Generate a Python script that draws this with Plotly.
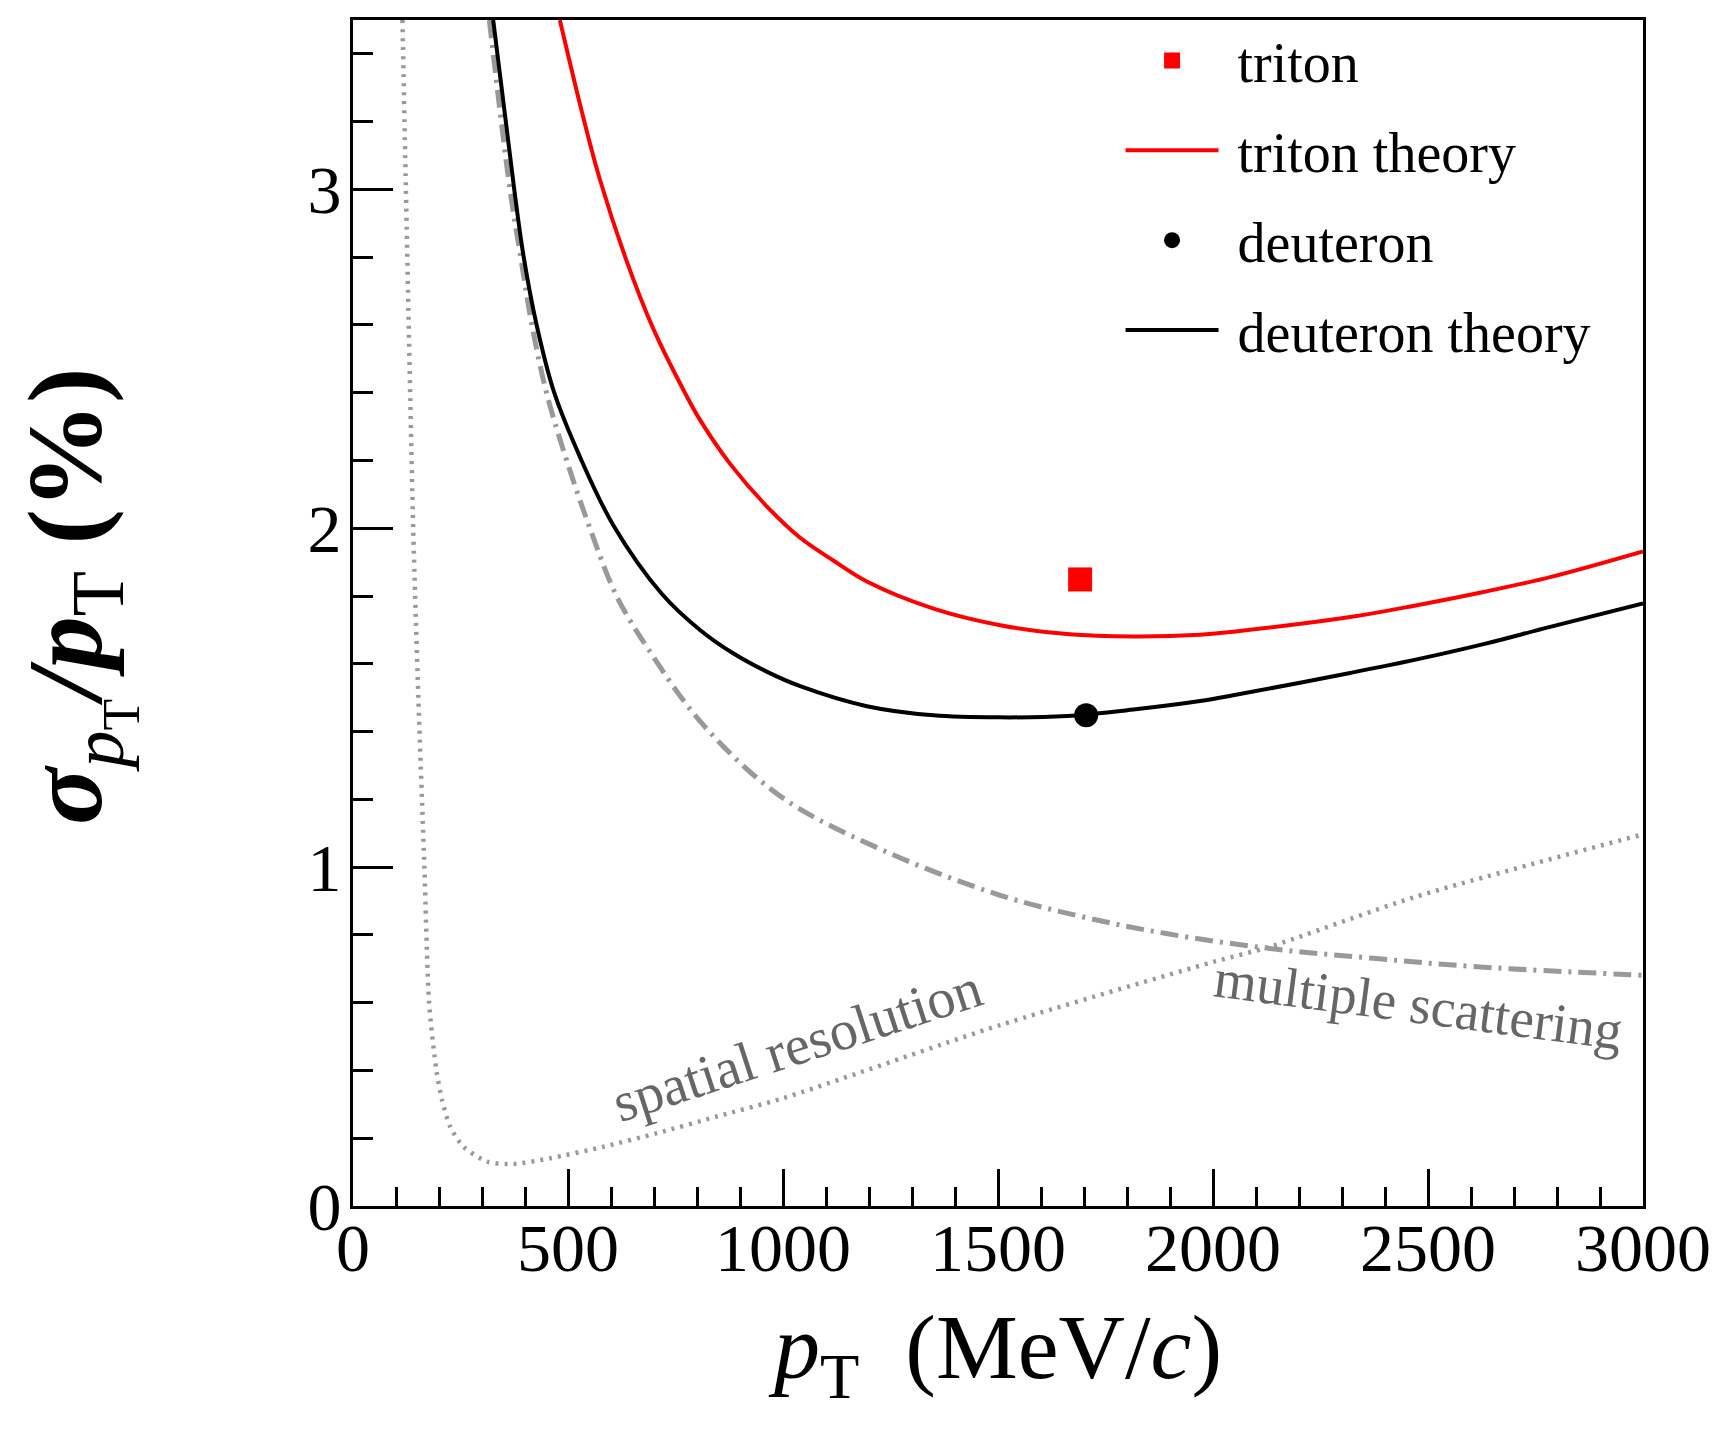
import plotly.graph_objects as go

# ---------------- data ----------------
pt_trit_theory = [481, 536, 574, 636, 698, 776, 807, 877, 962, 1040, 1117, 1195, 1350,
                  1505, 1660, 1815, 1970, 2047, 2319, 2474, 2629, 2784, 3000]
res_trit_theory = [3.5, 3.21, 3.03, 2.79, 2.59, 2.39, 2.32, 2.19, 2.065, 1.972, 1.905, 1.843, 1.763,
                   1.714, 1.688, 1.681, 1.686, 1.695, 1.738, 1.773, 1.812, 1.856, 1.932]

pt_deut_theory = [326, 375, 397, 427, 468, 528, 605, 718, 807, 884, 962, 1040, 1195, 1350,
                  1505, 1660, 1815, 1970, 2047, 2319, 2474, 2629, 2784, 3000]
res_deut_theory = [3.5, 3.0, 2.8, 2.6, 2.4, 2.21, 2.01, 1.807, 1.700, 1.631, 1.577, 1.534, 1.475, 1.448,
                   1.442, 1.446, 1.465, 1.490, 1.507, 1.573, 1.613, 1.658, 1.709, 1.778]

pt_mult_scat = [317, 365, 390, 416, 450, 497, 551, 613, 687, 815, 1001, 1250, 1505, 1698,
                1891, 2132, 2373, 2614, 3000]
res_mult_scat = [3.5, 3.0, 2.8, 2.6, 2.4, 2.2, 2.0, 1.8, 1.643, 1.419, 1.203, 1.04, 0.917, 0.853,
                 0.804, 0.760, 0.731, 0.706, 0.681]

pt_spatial = [115, 123, 140, 152, 166, 177, 194, 207, 226, 257, 312, 374, 459, 583, 707,
              846, 1000, 1505, 2000, 2132, 2470, 3000]
res_spatial = [3.5, 3.0, 2.0, 1.5, 1.0, 0.6, 0.4, 0.313, 0.234, 0.175, 0.131, 0.124, 0.141, 0.175, 0.215,
               0.264, 0.318, 0.534, 0.720, 0.765, 0.912, 1.097]

pt_triton = [1691]
res_triton = [1.849]
pt_deuteron = [1705]
res_deuteron = [1.448]

FONT = "Liberation Serif"
GRAY = "#999999"
NB = "\u00a0"

fig = go.Figure()

fig.add_trace(go.Scatter(x=pt_spatial, y=res_spatial, mode="lines", showlegend=False,
                         line=dict(color=GRAY, width=4.5, dash="3px,6px", shape="spline", smoothing=0.7)))
fig.add_trace(go.Scatter(x=pt_mult_scat, y=res_mult_scat, mode="lines", showlegend=False,
                         line=dict(color=GRAY, width=5, dash="18px,7px,3px,7px", shape="spline", smoothing=1.0)))
fig.add_trace(go.Scatter(x=pt_trit_theory, y=res_trit_theory, mode="lines", name=NB + "triton theory",
                         legendrank=2, legendgroup="b",
                         line=dict(color="#ff0000", width=4, shape="spline", smoothing=1.0)))
fig.add_trace(go.Scatter(x=pt_deut_theory, y=res_deut_theory, mode="lines", name=NB + "deuteron theory",
                         legendrank=4, legendgroup="d",
                         line=dict(color="black", width=4, shape="spline", smoothing=1.0)))
fig.add_trace(go.Scatter(x=pt_triton, y=res_triton, mode="markers", name=NB + "triton",
                         legendrank=1, legendgroup="a",
                         marker=dict(symbol="square", size=24, color="#ff0000")))
fig.add_trace(go.Scatter(x=pt_deuteron, y=res_deuteron, mode="markers", name=NB + "deuteron",
                         legendrank=3, legendgroup="c",
                         marker=dict(symbol="circle", size=24, color="black")))

axis_common = dict(showline=True, mirror=True, linecolor="black", linewidth=3,
                   ticks="inside", tickcolor="black", tickwidth=2.5,
                   showgrid=False, zeroline=False,
                   tickfont=dict(family=FONT, size=68, color="black"))

fig.update_xaxes(range=[0, 3000], tickvals=[0, 500, 1000, 1500, 2000, 2500, 3000], ticklen=37,
                 ticklabelstandoff=-20,
                 minor=dict(dtick=100, ticklen=19, ticks="inside", tickcolor="black", tickwidth=2.5),
                 title=dict(text="<i>p</i><sub>T</sub>  (MeV/<i>c</i>)",
                            font=dict(family=FONT, size=92, color="black"), standoff=30),
                 **axis_common)
fig.update_yaxes(range=[0, 3.5], tickvals=[0, 1, 2, 3], ticklen=40,
                 ticklabelstandoff=-5,
                 minor=dict(dtick=0.2, ticklen=20, ticks="inside", tickcolor="black", tickwidth=2.5),
                 **axis_common)

# y-axis title (placed as annotation for exact positioning)
fig.add_annotation(xref="paper", yref="paper", x=-0.213, y=0.514, xanchor="center", yanchor="middle",
                   text="<b><i>σ</i></b><sub><i>p</i><sub>T</sub></sub><b><i>/p</i></b><sub>T</sub><b> (%)</b>",
                   showarrow=False, textangle=-90,
                   font=dict(family=FONT, size=106, color="black"))

fig.add_annotation(x=1033, y=0.475, xref="x", yref="y", text="spatial resolution", showarrow=False,
                   textangle=-18, font=dict(family=FONT, size=56, color="#666666"))
fig.add_annotation(x=2477, y=0.594, xref="x", yref="y", text="multiple scattering", showarrow=False,
                   textangle=7.5, font=dict(family=FONT, size=55, color="#666666"))

fig.update_layout(
    width=1716, height=1430,
    margin=dict(l=353, r=73, t=20, b=224, autoexpand=False),
    paper_bgcolor="white", plot_bgcolor="white",
    legend=dict(x=0.595, xanchor="left", y=1.002, yanchor="top",
                font=dict(family=FONT, size=56, color="black"),
                itemwidth=93, tracegroupgap=14, bgcolor="rgba(0,0,0,0)",
                traceorder="grouped"),
)

fig.write_html("out.html")
